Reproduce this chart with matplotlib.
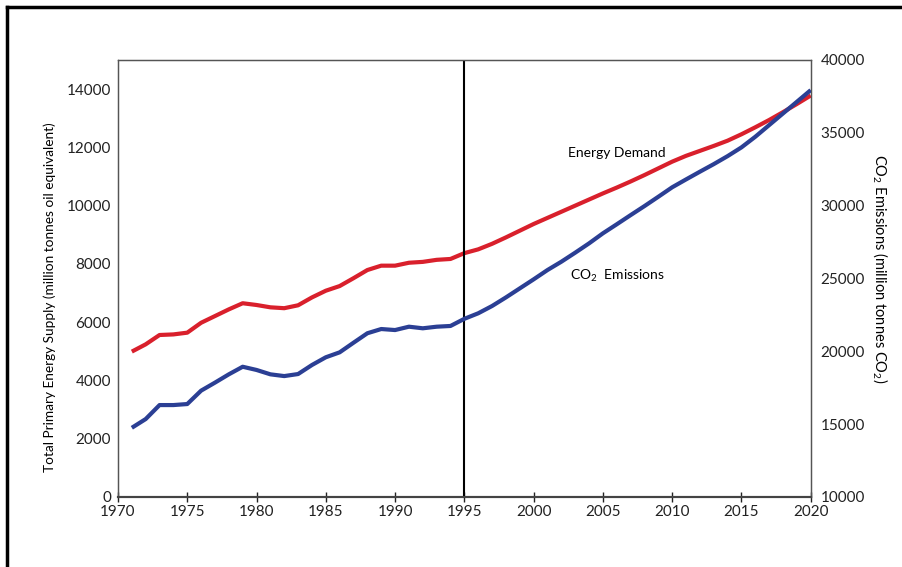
import matplotlib
matplotlib.use("Agg")
import matplotlib.pyplot as plt
from matplotlib.lines import Line2D

plt.rcParams['font.family'] = ['Lato', 'DejaVu Sans']
plt.rcParams['mathtext.fontset'] = 'custom'
plt.rcParams['mathtext.rm'] = 'Lato'
plt.rcParams['mathtext.it'] = 'Lato'

# years 1971-2020
years = list(range(1971, 2021))

# total primary energy supply (Mtoe), left axis
energy = [4990, 5240, 5560, 5580, 5640, 5980, 6210, 6440, 6650, 6590,
          6510, 6480, 6580, 6850, 7080, 7240, 7510, 7790, 7940, 7940,
          8040, 8070, 8140, 8170, 8370, 8500, 8690, 8910, 9140, 9370,
          9580, 9790, 10000, 10210, 10420, 10620, 10830, 11050, 11280, 11510,
          11710, 11880, 12050, 12230, 12450, 12690, 12940, 13210, 13490, 13780]

# CO2 emissions (Mt CO2), right axis
co2 = [14750, 15350, 16310, 16310, 16380, 17300, 17850, 18420, 18940, 18720,
       18420, 18300, 18440, 19060, 19590, 19930, 20590, 21240, 21530, 21460,
       21690, 21580, 21690, 21740, 22230, 22610, 23110, 23700, 24320, 24940,
       25580, 26150, 26770, 27410, 28100, 28720, 29350, 29970, 30610, 31260,
       31800, 32330, 32850, 33400, 34000, 34730, 35530, 36330, 37130, 37930]

marker_year = 1995
red = '#d9202c'
blue = '#2b3f94'

fig = plt.figure(figsize=(9.02, 5.67), dpi=100)
ax = fig.add_axes([0.1308, 0.1235, 0.768, 0.7707])
ax2 = ax.twinx()

ax.plot(years, energy, color=red, lw=3.0, solid_capstyle='butt', zorder=3)
ax2.plot(years, co2, color=blue, lw=3.0, solid_capstyle='butt', zorder=3)
ax.axvline(marker_year, color='black', lw=1.5, zorder=4)

ax.set_xlim(1970, 2020)
ax.set_ylim(0, 15000)
ax2.set_ylim(10000, 40000)
ax.set_xticks(range(1970, 2021, 5))
ax.set_yticks(range(0, 14001, 2000))
ax2.set_yticks(range(10000, 40001, 5000))

ax.tick_params(axis='x', direction='inout', length=7, width=1, labelsize=11, pad=2, colors='#222222')
ax.tick_params(axis='y', length=0, labelsize=11, pad=5, colors='#222222')
ax2.tick_params(axis='y', length=0, labelsize=11, pad=7, colors='#222222')

for a in (ax, ax2):
    for s in ('top', 'right', 'left'):
        a.spines[s].set_color('#555555')
        a.spines[s].set_linewidth(0.9)
    a.spines['bottom'].set_color('#444444')
    a.spines['bottom'].set_linewidth(1.5)

ax.set_ylabel('Total Primary Energy Supply (million tonnes oil equivalent)', fontsize=9.8)
ax.yaxis.label.set_va('center')
ax.yaxis.set_label_coords(-0.098, 0.458)
ax2.set_ylabel(r'CO$_2$ Emissions (million tonnes CO$_2$)', fontsize=10.5, rotation=270)
ax2.yaxis.label.set_va('center')
ax2.yaxis.set_label_coords(1.101, 0.523)

ax.text(2002.5, 11800, 'Energy Demand', fontsize=10, va='center', ha='left')
ax.text(2002.6, 7570, r'CO$_2$  Emissions', fontsize=10, va='center', ha='left')

# partial frame around the figure
fig.add_artist(Line2D([0.008, 0.008], [0, 0.988], color='black', lw=2.5, transform=fig.transFigure))
fig.add_artist(Line2D([0.008, 1.0], [0.988, 0.988], color='black', lw=2.5, transform=fig.transFigure))

fig.savefig('out.png', dpi=100)
